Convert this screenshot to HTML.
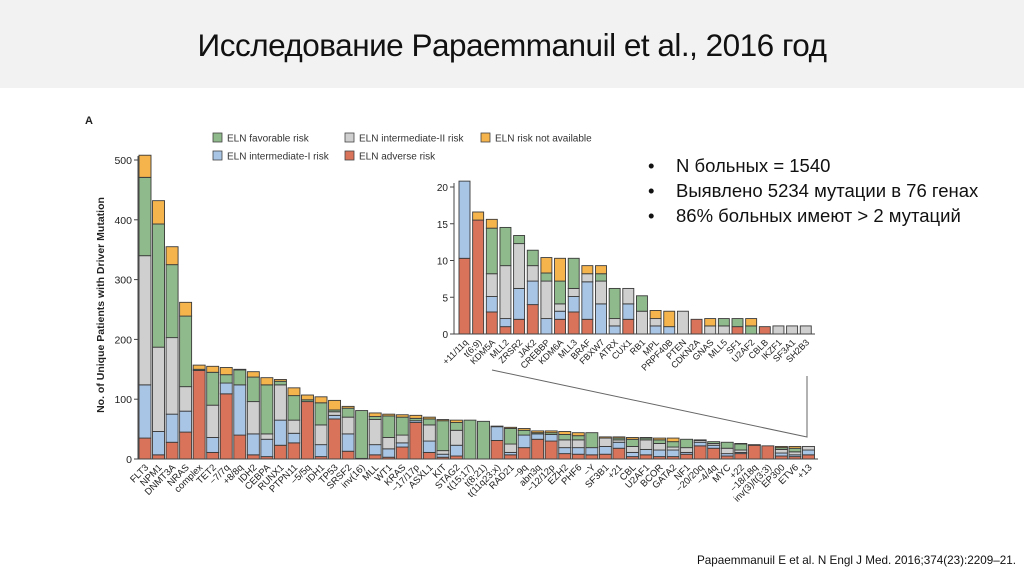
<!DOCTYPE html>
<html><head><meta charset="utf-8">
<style>
body{margin:0;width:1024px;height:574px;background:#fff;overflow:hidden;font-family:"Liberation Sans",sans-serif;position:relative}
#hdr{position:absolute;left:0;top:0;width:1024px;height:88px;background:#f2f2f2}
#title{position:absolute;left:0;width:1024px;top:27px;text-align:center;font-size:31.5px;color:#111;letter-spacing:-0.5px}
#bul{position:absolute;left:645px;top:153px;font-size:18.5px;color:#111;line-height:25px}
#bul div{position:relative;padding-left:31px}
#bul div:before{content:"•";position:absolute;left:3px}
#cite{position:absolute;left:697px;top:554px;font-size:11.7px;color:#111}
svg{position:absolute;left:0;top:0}
</style></head><body>
<div id="hdr"></div>
<div id="title">Исследование Papaemmanuil et al., 2016 год</div>
<div id="bul">
<div>N больных = 1540</div>
<div>Выявлено 5234 мутации в 76 генах</div>
<div>86% больных имеют &gt; 2 мутаций</div>
</div>
<div id="cite">Papaemmanuil E et al. N Engl J Med. 2016;374(23):2209–21.</div>
<svg id="chart" width="1024" height="574"></svg>
<script>
// Main chart data (segments: adverse, int-I, int-II, favorable, n/a)
const mainCats=["FLT3","NPM1","DNMT3A","NRAS","complex","TET2","−7/7q","+8/8q","IDH2","CEBPA","RUNX1","PTPN11","−5/5q","IDH1","TP53","SRSF2","inv(16)","MLL","WT1","KRAS","−17/17p","ASXL1","KIT","STAG2","t(15;17)","t(8;21)","t(11q23;x)","RAD21","−9q","abn3q","−12/12p","EZH2","PHF6","−Y","SF3B1","+21","CBL","U2AF1","BCOR","GATA2","NF1","−20/20q","−4/4q","MYC","+22","−18/18q","inv(3)/t(3;3)","EP300","ETV6","+13"];
const mainAdverse=[35,7,28,45,148,11,109,40,7,4,23,27,96,4,67,13,1,7,3,20,61,11,3,5,0,0,31,7,19,33,30,9,8,7,8,18,4,7,4,4,8,22,18,5,9,23,22,5,4,7];
const mainInt1=[89,39,47,35,0,25,18,84,35,29,42,16,0,20,6,29,0,17,14,7,3,19,5,18,0,0,23,4,21,9,11,10,11,12,13,10,7,9,11,11,3,6,5,4,2,0,0,5,3,8];
const mainInt2=[216,141,128,41,0,54,0,0,54,9,59,22,0,33,6,28,0,42,19,13,0,27,6,25,0,0,0,14,0,0,0,13,13,0,14,4,10,16,11,5,8,3,3,9,4,0,0,6,5,6];
const mainFav=[131,206,122,118,2,55,14,25,41,82,6,41,3,37,3,15,80,5,36,30,4,10,50,13,65,63,0,26,8,2,3,9,7,25,0,3,12,3,6,9,14,0,3,10,10,0,0,3,6,0];
const mainNA=[37,39,30,23,7,10,12,1,9,12,3,13,8,10,16,3,0,6,3,4,5,3,2,4,0,0,1,2,3,3,3,5,5,0,2,2,3,1,3,6,0,1,0,0,1,1,0,2,3,0];
const mainTicks=[0,100,200,300,400,500];
// Inset data
const insetCats=["+11/11q","t(6;9)","KDM5A","MLL2","ZRSR2","JAK2","CREBBP","KDM6A","MLL3","BRAF","FBXW7","ATRX","CUX1","RB1","MPL","PRPF40B","PTEN","CDKN2A","GNAS","MLL5","SF1","U2AF2","CBLB","IKZF1","SF3A1","SH2B3"];
const insetAdverse=[10.3,15.5,3,1,2,4,0,2,3,2,0,0,2,0,0,0,0,2,0,0,1,0,1,0,0,0];
const insetInt1=[10.5,0,2.1,1.1,4.2,3.2,2.1,1.1,2.1,5.1,4.1,1.1,2.1,0,1.1,1,0,0,0,0,0,0,0,0,0,0];
const insetInt2=[0,0,3.1,7.2,6.1,2.1,5.1,1,1.1,1.1,3.1,1,2.1,3.1,1,0,3.1,0,1.1,1.1,0,0,0,1.1,1.1,1.1];
const insetFav=[0,0,6.2,5.2,1.1,2.1,1.1,3.1,4.1,0,1,4.1,0,2.1,0,0,0,0,0,1,1.1,1.1,0,0,0,0];
const insetNA=[0,1.1,1.2,0,0,0,2.1,3.1,0,1.1,1.1,0,0,0,1.1,2.1,0,0,1,0,0,1,0,0,0,0];
const insetTicks=[0,5,10,15,20];

const colors=["#d9735a","#a9c5e6","#cfcfcf","#8fba8b","#f6b44c"];
const svg=document.getElementById('chart');
const NS="http://www.w3.org/2000/svg";
function mk(tag,attrs,parent){const e=document.createElementNS(NS,tag);for(const k in attrs)e.setAttribute(k,attrs[k]);(parent||svg).appendChild(e);return e;}

function drawChart(cfg){
  const g=mk('g',{});
  
  
  const y=v=>cfg.y0-(v/cfg.max)*(cfg.y0-cfg.yTop);
  const x=i=>cfg.x0+cfg.pad+i*cfg.step;
  const series=[cfg.a,cfg.b,cfg.c,cfg.d,cfg.e];
  const sn=['adverse','int1','int2','favorable','na'];
  cfg.cats.forEach((c,i)=>{
    let cum=0;
    const bg=mk('g',{},g);
    
    
    series.forEach((s,k)=>{
      const v=s[i];if(v<=0)return;
      const r=mk('rect',{x:x(i),y:y(cum+v),width:cfg.bw,height:y(cum)-y(cum+v),fill:colors[k],stroke:'#3a3a3a','stroke-width':0.9},bg);
      
      
      cum+=v;
    });
    const t=mk('text',{x:x(i)+cfg.bw/2+4,y:cfg.y0+9,'font-size':cfg.fs,'text-anchor':'end',fill:'#222',transform:`rotate(-45 ${x(i)+cfg.bw/2+4} ${cfg.y0+9})`},g);
    t.textContent=c;
    
    
  });
  mk('line',{x1:cfg.x0,y1:cfg.yTop-4,x2:cfg.x0,y2:cfg.y0,stroke:'#444','stroke-width':1},g);
  mk('line',{x1:cfg.x0,y1:cfg.y0,x2:cfg.x1,y2:cfg.y0,stroke:'#444','stroke-width':1},g);
  cfg.ticks.forEach(t=>{
    mk('line',{x1:cfg.x0-4,y1:y(t),x2:cfg.x0,y2:y(t),stroke:'#444'},g);
    const tx=mk('text',{x:cfg.x0-6,y:y(t)+4,'font-size':cfg.fs+1,'text-anchor':'end',fill:'#222'},g);
    tx.textContent=t;
    
    
  });
}
drawChart({name:'main-chart',cats:mainCats,a:mainAdverse,b:mainInt1,c:mainInt2,d:mainFav,e:mainNA,ticks:mainTicks,max:500,x0:138,x1:818,pad:1,step:13.54,bw:12,y0:459,yTop:160,fs:9.5});
drawChart({name:'inset-chart',cats:insetCats,a:insetAdverse,b:insetInt1,c:insetInt2,d:insetFav,e:insetNA,ticks:insetTicks,max:20,x0:454,x1:815,pad:5,step:13.65,bw:11,y0:334,yTop:187,fs:9});

// y-axis title
const yt=mk('text',{x:104,y:305,'font-size':10.5,'font-weight':'bold','text-anchor':'middle',fill:'#222',transform:'rotate(-90 104 305)'});
yt.textContent='No. of Unique Patients with Driver Mutation';


const pa=mk('text',{x:85,y:124,'font-size':11,'font-weight':'bold',fill:'#222'});
pa.textContent='A';


// connector lines
const cl=mk('polyline',{points:'492,370 807,437 807,376',fill:'none',stroke:'#666','stroke-width':1});


// legend
const legend=[["ELN favorable risk",3,213,138],["ELN intermediate-II risk",2,345,138],["ELN risk not available",4,481,138],["ELN intermediate-I risk",1,213,156],["ELN adverse risk",0,345,156]];
legend.forEach(l=>{
  const g=mk('g',{});
  
  
  mk('rect',{x:l[2],y:l[3]-5,width:9,height:9,fill:colors[l[1]],stroke:'#444','stroke-width':0.8},g);
  const t=mk('text',{x:l[2]+14,y:l[3]+3.5,'font-size':10,fill:'#333'},g);
  t.textContent=l[0];
});
</script>
</body></html>
